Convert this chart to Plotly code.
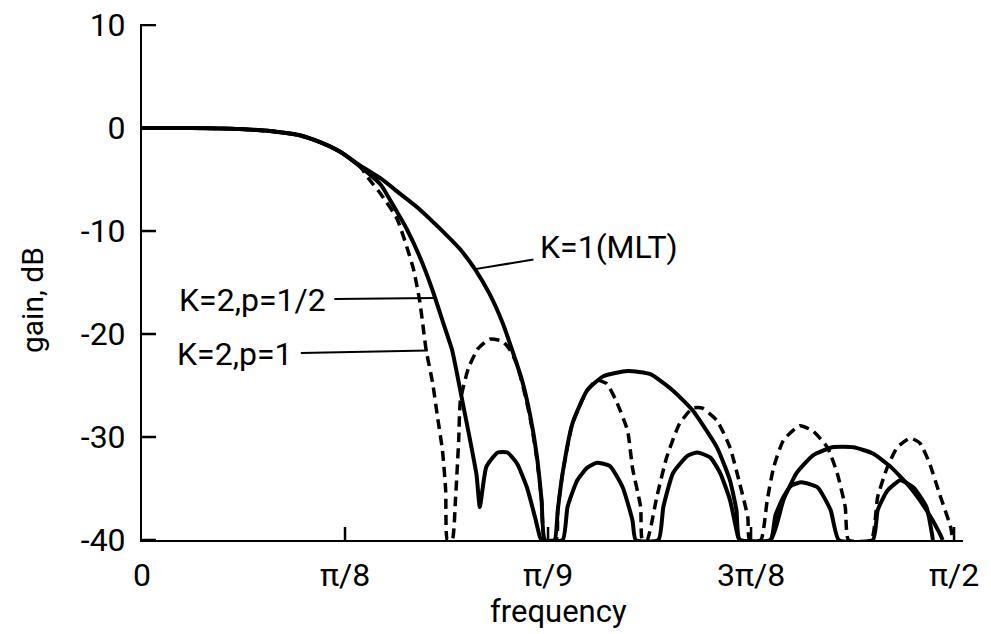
import plotly.graph_objects as go

# frequency in units of pi, gain in dB
k1_x = [0.000, 0.030, 0.060, 0.085, 0.097, 0.110, 0.122, 0.134, 0.147, 0.159, 0.171, 0.183, 0.196,
        0.205, 0.214, 0.222, 0.228, 0.234, 0.239, 0.243, 0.246, 0.248,
        0.254, 0.256, 0.259, 0.265, 0.274, 0.284, 0.299, 0.313, 0.327, 0.339, 0.354, 0.362, 0.366, 0.368,
        0.387, 0.395, 0.403, 0.413, 0.425, 0.438, 0.450, 0.461, 0.473, 0.483, 0.491, 0.493]
k1_db = [0.0, 0.0, -0.1, -0.4, -0.7, -1.4, -2.3, -3.6, -4.9, -6.4, -7.9, -9.7, -11.8,
         -13.7, -16.1, -18.9, -21.6, -24.5, -27.9, -31.7, -36.1, -40,
         -40, -37.1, -33.5, -28.7, -25.5, -24.1, -23.6, -23.9, -25.5, -27.4, -31.0, -34.2, -37.1, -40,
         -40, -36.1, -33.5, -31.8, -31.0, -31.0, -31.6, -32.9, -34.9, -37.1, -39.3, -40]

p12_x = [0.000, 0.030, 0.060, 0.085, 0.097, 0.110, 0.122, 0.134, 0.147, 0.155, 0.163, 0.171, 0.179, 0.185,
         0.191, 0.196, 0.202, 0.206, 0.208,
         0.212, 0.219, 0.225, 0.231, 0.237, 0.242, 0.245, 0.246,
         0.259, 0.262, 0.268, 0.274, 0.280, 0.288, 0.296, 0.302, 0.304,
         0.318, 0.321, 0.327, 0.336, 0.342, 0.350, 0.356, 0.362, 0.367, 0.368,
         0.387, 0.390, 0.395, 0.400, 0.406, 0.416, 0.424, 0.429,
         0.450, 0.453, 0.459, 0.467, 0.475, 0.483, 0.487]
p12_db = [0.0, 0.0, -0.1, -0.4, -0.7, -1.4, -2.3, -3.7, -5.5, -7.6, -9.8, -12.5, -15.8, -18.7,
          -21.6, -25.5, -30.3, -33.7, -36.8,
          -32.9, -31.5, -31.5, -32.6, -34.9, -37.8, -39.7, -40,
          -40, -36.8, -34.2, -33.0, -32.5, -32.8, -34.9, -38.1, -40,
          -40, -36.8, -33.5, -31.8, -31.5, -32.0, -33.5, -36.1, -39.7, -40,
          -40, -37.6, -35.8, -34.7, -34.4, -34.9, -37.1, -40,
          -40, -37.1, -35.2, -34.2, -34.9, -36.8, -40]

p1_x = [0.000, 0.030, 0.060, 0.085, 0.097, 0.110, 0.122, 0.134, 0.140, 0.147, 0.157, 0.167, 0.171, 0.175,
        0.179, 0.182, 0.185, 0.187, 0.188,
        0.191, 0.193, 0.195, 0.196, 0.201, 0.207, 0.214, 0.222, 0.226, 0.231, 0.236, 0.240, 0.243, 0.246, 0.248,
        0.255, 0.256, 0.259, 0.265, 0.274, 0.280, 0.286, 0.292, 0.299, 0.302, 0.307, 0.308,
        0.311, 0.317, 0.323, 0.331, 0.339, 0.345, 0.354, 0.362, 0.368, 0.373, 0.374,
        0.381, 0.385, 0.389, 0.395, 0.405, 0.413, 0.422, 0.428, 0.433, 0.435,
        0.449, 0.453, 0.459, 0.465, 0.473, 0.479, 0.485, 0.491, 0.498, 0.499]
p1_db = [0.0, 0.0, -0.1, -0.4, -0.7, -1.4, -2.3, -3.7, -5.0, -6.4, -8.8, -13.6, -16.8, -21.6,
         -24.8, -28.1, -31.3, -35.2, -40,
         -40, -36.1, -30.3, -26.5, -23.3, -21.4, -20.5, -20.7, -21.4, -23.0, -26.0, -29.0, -32.0, -36.1, -40,
         -40, -37.1, -33.5, -28.7, -25.5, -24.5, -24.8, -26.5, -29.4, -33.0, -36.8, -40,
         -40, -35.8, -32.0, -28.7, -27.2, -27.2, -28.4, -31.0, -34.5, -37.8, -40,
         -40, -36.1, -32.9, -30.3, -28.9, -29.4, -31.0, -33.5, -36.8, -40,
         -40, -35.8, -32.9, -31.0, -30.1, -30.6, -32.6, -35.5, -38.8, -40]

x_tickvals = [0, 0.125, 0.25, 0.375, 0.5]
x_ticktext = ["0", "π/8", "π/9", "3π/8", "π/2"]
y_tickvals = [-40, -30, -20, -10, 0, 10]
y_ticktext = ["-40", "-30", "-20", "-10", "0", "10"]

series_labels = ["K=1(MLT)", "K=2,p=1/2", "K=2,p=1"]

FONT = "Roboto"
X_MIN, X_MAX = 0, 0.5055
Y_MIN, Y_MAX = -40, 10.1

fig = go.Figure()
fig.add_trace(go.Scatter(x=p1_x, y=p1_db, mode="lines", name=series_labels[2],
                         line=dict(color="black", width=3.5, dash="10px,6px", shape="spline", smoothing=0.5)))
fig.add_trace(go.Scatter(x=p12_x, y=p12_db, mode="lines", name=series_labels[1],
                         line=dict(color="black", width=4, shape="spline", smoothing=0.5)))
fig.add_trace(go.Scatter(x=k1_x, y=k1_db, mode="lines", name=series_labels[0],
                         line=dict(color="black", width=4, shape="spline", smoothing=0.5)))

# inward tick marks (drawn as pixel-sized shapes anchored at the tick values)
for yv in y_tickvals:
    fig.add_shape(type="line", xref="x", yref="y", xsizemode="pixel", xanchor=X_MIN,
                  x0=0, x1=14, y0=yv, y1=yv, line=dict(color="black", width=2.5))
for xv in x_tickvals[1:]:
    fig.add_shape(type="line", xref="x", yref="y", ysizemode="pixel", yanchor=Y_MIN,
                  x0=xv, x1=xv, y0=0, y1=13, line=dict(color="black", width=2.5))

ann_font = dict(family=FONT, size=32, color="black")
# label leaders pointing at curves (x in units of pi, y in dB)
fig.add_annotation(x=0.205, y=-13.7, text=series_labels[0], showarrow=True, arrowhead=0,
                   arrowwidth=2, arrowcolor="black", ax=134, ay=-22, borderpad=6, font=ann_font)
fig.add_annotation(x=0.180, y=-16.5, text=series_labels[1], showarrow=True, arrowhead=0,
                   arrowwidth=2, arrowcolor="black", ax=-182, ay=2, borderpad=8, font=ann_font)
fig.add_annotation(x=0.176, y=-21.6, text=series_labels[2], showarrow=True, arrowhead=0,
                   arrowwidth=2, arrowcolor="black", ax=-193, ay=4, borderpad=8, font=ann_font)

# axis titles
fig.add_annotation(xref="paper", yref="paper", x=-0.134, y=0.465, text="gain, dB", showarrow=False,
                   textangle=-90, font=dict(family=FONT, size=30, color="black"),
                   xanchor="center", yanchor="middle")
fig.add_annotation(xref="paper", yref="paper", x=0.507, y=-0.138, text="frequency", showarrow=False,
                   font=dict(family=FONT, size=31, color="black"), xanchor="center", yanchor="middle")

fig.update_layout(
    width=991, height=634, autosize=False,
    margin=dict(l=142, r=28, t=24, b=94, autoexpand=False),
    paper_bgcolor="white", plot_bgcolor="white",
    showlegend=False,
    font=dict(family=FONT, size=32, color="black"),
)
fig.update_xaxes(range=[X_MIN, X_MAX], tickvals=x_tickvals, ticktext=x_ticktext, automargin=False,
                 showgrid=False, zeroline=False, showline=True, linecolor="black", linewidth=2,
                 ticks="", ticklabeloverflow="allow", ticklabelstandoff=6,
                 tickfont=dict(family=FONT, size=32, color="black"))
fig.update_yaxes(range=[Y_MIN, Y_MAX], tickvals=y_tickvals, ticktext=y_ticktext, automargin=False,
                 showgrid=False, zeroline=False, showline=True, linecolor="black", linewidth=2,
                 ticks="", ticklabeloverflow="allow", ticklabelstandoff=8,
                 tickfont=dict(family=FONT, size=32, color="black"))

# remove the default page margin so the figure fills the window exactly; hide the mode bar
fig.write_html("out.html", config={"displayModeBar": False},
               post_script="document.body.style.margin='0';document.body.style.padding='0';")
